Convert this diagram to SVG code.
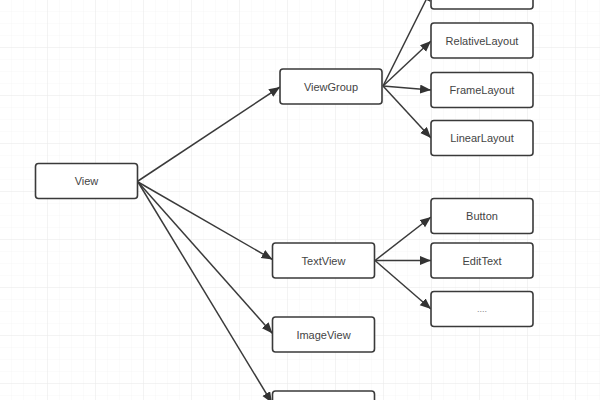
<svg xmlns="http://www.w3.org/2000/svg" width="600" height="400" viewBox="0 0 600 400">
<style>
.box{fill:#fff;stroke:#3a3a3a;stroke-width:1.6}
.lbl{font-family:"Liberation Sans",Arial,sans-serif;font-size:11px;fill:#444;text-anchor:middle;dominant-baseline:central}
.edge{stroke:#3a3a3a;stroke-width:1.5;fill:none;marker-end:url(#ah)}
</style>
<defs>
<marker id="ah" markerUnits="userSpaceOnUse" markerWidth="12" markerHeight="10" refX="11" refY="4.5" orient="auto">
<path d="M0,0 L11,4.5 L0,9 Z" fill="#333"/>
</marker>
<pattern id="minor" width="12" height="12" patternUnits="userSpaceOnUse">
<path d="M12,0 V12 M0,12 H12" stroke="#f6f6f6" stroke-width="1" fill="none"/>
</pattern>
<pattern id="major" width="48" height="48" patternUnits="userSpaceOnUse">
<rect width="48" height="48" fill="url(#minor)"/>
<path d="M48,0 V48 M0,48 H48" stroke="#ebebeb" stroke-width="1" fill="none"/>
</pattern>
</defs>
<rect width="600" height="400" fill="#fff"/>
<rect width="600" height="400" fill="url(#major)"/>
<g id="connectors">
<line class="edge" x1="138" y1="181" x2="280" y2="87"/>
<line class="edge" x1="138" y1="182" x2="272.5" y2="259.5"/>
<line class="edge" x1="138" y1="182" x2="272.5" y2="333.5"/>
<line class="edge" x1="138" y1="182" x2="272" y2="403"/>
<line class="edge" x1="383" y1="86" x2="431" y2="-10"/>
<line class="edge" x1="383" y1="86" x2="431" y2="41"/>
<line class="edge" x1="383" y1="86" x2="431" y2="90"/>
<line class="edge" x1="383" y1="86" x2="431" y2="138"/>
<line class="edge" x1="375" y1="260.5" x2="431" y2="217"/>
<line class="edge" x1="375" y1="260.5" x2="431" y2="260.5"/>
<line class="edge" x1="375" y1="260.5" x2="431" y2="309"/>
</g>
<g id="view"><rect class="box" x="35.5" y="163.5" width="102" height="35" rx="3"/><text class="lbl" x="86.5" y="181">View</text></g>
<g id="viewgroup"><rect class="box" x="280" y="69" width="102" height="35" rx="3"/><text class="lbl" x="331" y="86.5">ViewGroup</text></g>
<g id="topbox"><rect class="box" x="431" y="-26" width="102" height="35" rx="3"/></g>
<g id="relativelayout"><rect class="box" x="431" y="23" width="102" height="35" rx="3"/><text class="lbl" x="482" y="40.5">RelativeLayout</text></g>
<g id="framelayout"><rect class="box" x="431" y="72.5" width="102" height="35" rx="3"/><text class="lbl" x="482" y="90">FrameLayout</text></g>
<g id="linearlayout"><rect class="box" x="431" y="120.5" width="102" height="35" rx="3"/><text class="lbl" x="482" y="138">LinearLayout</text></g>
<g id="button"><rect class="box" x="431" y="198.5" width="102" height="35" rx="3"/><text class="lbl" x="482" y="216">Button</text></g>
<g id="edittext"><rect class="box" x="431" y="243" width="102" height="35" rx="3"/><text class="lbl" x="482" y="260.5">EditText</text></g>
<g id="more"><rect class="box" x="431" y="291.5" width="102" height="35" rx="3"/><text class="lbl" x="482" y="309" style="fill:#888;font-size:9px">....</text></g>
<g id="textview"><rect class="box" x="272.5" y="243" width="102" height="35" rx="3"/><text class="lbl" x="323.5" y="260.5">TextView</text></g>
<g id="imageview"><rect class="box" x="272.5" y="317" width="102" height="35" rx="3"/><text class="lbl" x="323.5" y="334.5">ImageView</text></g>
<g id="bottombox"><rect class="box" x="272.5" y="391" width="102" height="35" rx="3"/></g>
</svg>
